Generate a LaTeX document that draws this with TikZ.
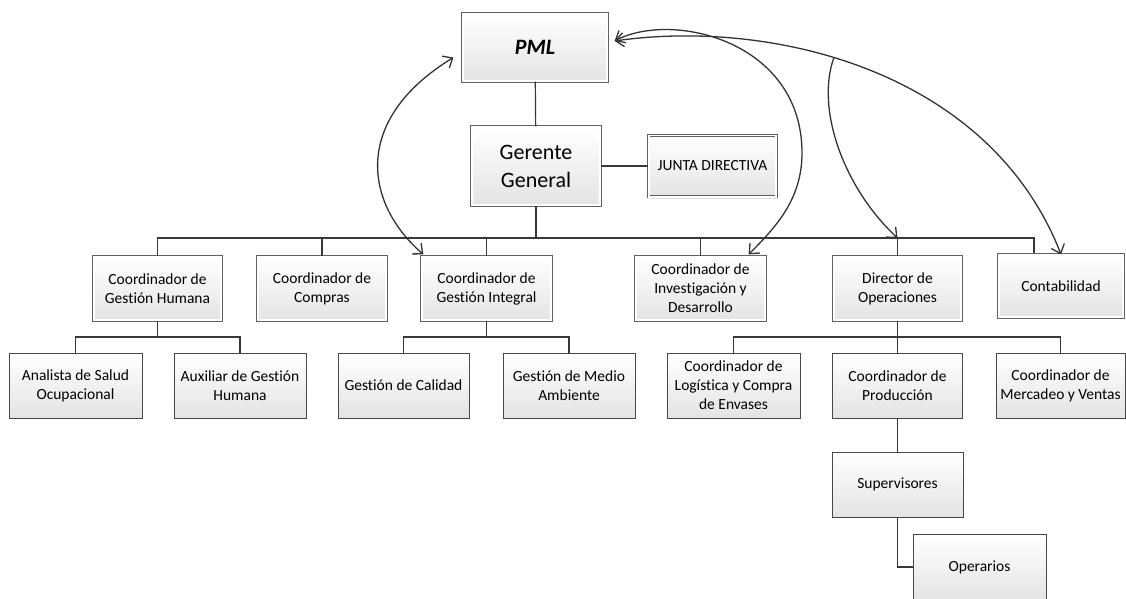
\documentclass[tikz,border=0pt]{standalone}
\usepackage{fontspec}
\setmainfont{Carlito}[Ligatures=NoCommon]
\usetikzlibrary{shadows,arrows.meta,bending,calc}
\newcommand\fsz{\fontsize{15.5}{19}\selectfont}
\newcommand\gsz{\fontsize{22}{28}\selectfont}
\begin{document}
\begin{tikzpicture}[x=1pt,y=-1pt,
  base/.style={rectangle, inner sep=2pt, align=center, font=\fsz, top color=white, bottom color=black!11},
  dbox/.style={base, draw=black!62, double=white, double distance=1.6pt, line width=0.8pt,
     drop shadow={shadow xshift=2pt, shadow yshift=-2pt, fill=black!30, opacity=0.45}},
  sbox/.style={base, draw=black!72, line width=0.9pt},
  conn/.style={draw=black!78, line width=1.2pt},
  tipA/.tip={Straight Barb[length=8pt,width=14pt]},
  arr/.style={draw=black!80, line width=1.3pt}]
\useasboundingbox (0,0) rectangle (1126,599);
% top
\node[dbox, minimum width=144.4, minimum height=67.4, font=\gsz\bfseries\itshape] (pml) at (535,47.5) {PML};
\node[dbox, minimum width=128.4, minimum height=78.4, font=\gsz] (ger) at (536,166) {Gerente\\General};
\node[dbox, minimum width=127.4, minimum height=61.4] (jun) at (712.5,166) {JUNTA DIRECTIVA};
% level 2
\node[dbox, minimum width=127.4, minimum height=63.4] (cgh) at (157.5,288.5) {Coordinador de\\Gestión Humana};
\node[dbox, minimum width=128.4, minimum height=63.4] (com) at (322,288.5) {Coordinador de\\Compras};
\node[dbox, minimum width=129.4, minimum height=63.4] (cgi) at (486.5,288.5) {Coordinador de\\Gestión Integral};
\node[dbox, minimum width=129.4, minimum height=63.4] (cid) at (700.5,288.5) {Coordinador de\\Investigación y\\Desarrollo};
\node[dbox, minimum width=127.4, minimum height=63.4] (dir) at (897.5,288.5) {Director de\\Operaciones};
\node[dbox, minimum width=124.4, minimum height=62.4] (con) at (1061,286) {Contabilidad};
% level 3
\node[sbox, minimum width=133, minimum height=65] (ana) at (75.5,385.5) {Analista de Salud\\Ocupacional};
\node[sbox, minimum width=132, minimum height=65] (aux) at (240,385.5) {Auxiliar de Gestión\\Humana};
\node[sbox, minimum width=131, minimum height=65] (cal) at (403.5,385.5) {Gestión de Calidad};
\node[sbox, minimum width=132, minimum height=65] (med) at (569,385.5) {Gestión de Medio\\Ambiente};
\node[sbox, minimum width=133, minimum height=65] (log) at (733.5,385.5) {Coordinador de\\Logística y Compra\\de Envases};
\node[sbox, minimum width=130, minimum height=65] (pro) at (897.5,385.5) {Coordinador de\\Producción};
\node[sbox, minimum width=129, minimum height=65] (mer) at (1060.5,385.5) {Coordinador de\\Mercadeo y Ventas};
\node[sbox, minimum width=131, minimum height=65] (sup) at (897.5,484.5) {Supervisores};
\node[sbox, minimum width=133, minimum height=66] (ope) at (979.5,567) {Operarios};
% connectors
\coordinate (bus) at (536,238);
\coordinate (cb) at (1034,253);
\coordinate (s1) at (157.5,337);
\coordinate (s2) at (486.5,337);
\coordinate (s3) at (897.5,337);
\draw[conn] (pml) -- (ger);
\draw[conn] (ger.east) -- (jun.west);
\draw[conn] (ger.south) -- (bus);
\draw[conn] (bus) -| (cgh.north);
\draw[conn] (bus) -| (com.north);
\draw[conn] (bus) -| (cgi.north);
\draw[conn] (bus) -| (cid.north);
\draw[conn] (bus) -| (dir.north);
\draw[conn] (bus) -| (cb);
\draw[conn] (cgh.south) -- (s1);
\draw[conn] (s1) -| (ana.north);
\draw[conn] (s1) -| (aux.north);
\draw[conn] (cgi.south) -- (s2);
\draw[conn] (s2) -| (cal.north);
\draw[conn] (s2) -| (med.north);
\draw[conn] (dir.south) -- (s3);
\draw[conn] (s3) -| (log.north);
\draw[conn] (s3) -| (pro.north);
\draw[conn] (s3) -| (mer.north);
\draw[conn] (pro) -- (sup);
\draw[conn] (sup.south) |- (ope.west);
% curved arrows
\coordinate (pl) at ($(pml.west)+(-9,10)$);
\coordinate (pr) at ($(pml.east)+(7,-6.5)$);
\coordinate (gi) at ($(cgi.north west)+(2,-2)$);
\coordinate (ci) at ($(cid.north east)+(-17,-2)$);
\coordinate (bdir) at (897.5,238);
\draw[arr, {tipA}-{tipA}] (pl) .. controls (350,120) and (365,205) .. (gi);
\draw[arr, {tipA}-{tipA}] (pr) .. controls (670,10) and (802,40) .. (802,153)
      .. controls (802,200) and (775,228) .. (ci);
\path (pr) .. controls (770,18) and (990,70) .. (con.north) coordinate[pos=0.43] (br);
\draw[arr, {tipA}-{tipA}] (pr) .. controls (770,18) and (990,70) .. (con.north);
\draw[arr, -{tipA}] (br) .. controls (815,110) and (845,190) .. (bdir);
\end{tikzpicture}
\end{document}
